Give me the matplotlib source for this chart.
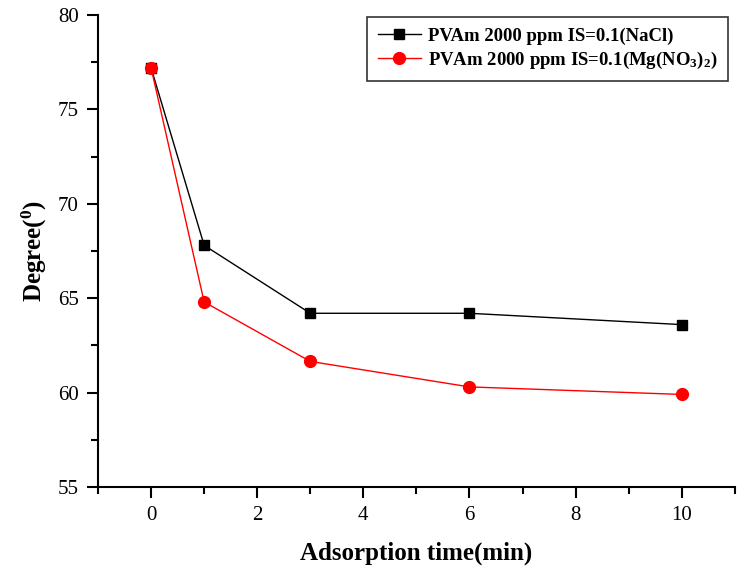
import matplotlib
matplotlib.use("Agg")
import matplotlib.pyplot as plt
from matplotlib.ticker import MultipleLocator

plt.rcParams["font.family"] = "Liberation Serif"
plt.rcParams["mathtext.fontset"] = "custom"
plt.rcParams["mathtext.rm"] = "Liberation Serif"
plt.rcParams["mathtext.bf"] = "Liberation Serif:bold"
plt.rcParams["mathtext.default"] = "bf"

# Datos
tiempo = [0, 1, 3, 6, 10]
nacl = [77.2, 67.8, 64.2, 64.2, 63.6]
mgno3 = [77.2, 64.8, 61.65, 60.3, 59.9]

fig = plt.figure(figsize=(7.5, 5.79), dpi=100)
ax = fig.add_axes([0.1307, 0.159, 0.849, 0.815])

ax.plot(tiempo, nacl, color="black", marker="s", markersize=7, linewidth=1,
        label="PVAm 2000 ppm IS=0.1(NaCl)")
ax.plot(tiempo, mgno3, color="red", marker="o", markersize=8.5, linewidth=1,
        label="PVAm 2000 ppm IS=0.1(Mg(NO$_3$)$_2$)")

ax.set_xlim(-1, 11)
ax.set_ylim(55, 80)
ax.xaxis.set_major_locator(MultipleLocator(2))
ax.xaxis.set_minor_locator(MultipleLocator(1))
ax.yaxis.set_major_locator(MultipleLocator(5))
ax.yaxis.set_minor_locator(MultipleLocator(2.5))

ax.spines["top"].set_visible(False)
ax.spines["right"].set_visible(False)
ax.spines["left"].set_linewidth(1.5)
ax.spines["bottom"].set_linewidth(1.5)
ax.tick_params(which="major", direction="out", length=8, width=1.5, labelsize=15, pad=6)
ax.tick_params(which="minor", direction="out", length=5, width=1.5)

ax.set_xlabel("Adsorption time(min)", fontsize=18, fontweight="bold", labelpad=12)
ax.set_ylabel("Degree($^{0}$)", fontsize=18, fontweight="bold", labelpad=6)

leg = ax.legend(loc="upper right", prop={"weight": "bold", "size": 13.5},
                frameon=True, fancybox=False, edgecolor="black",
                handlelength=2.3, handletextpad=0.4, borderpad=0.55,
                labelspacing=0.25, borderaxespad=0,
                bbox_to_anchor=(0.99, 0.995))
leg.get_frame().set_linewidth(1.2)

fig.savefig("out.png", dpi=100)
